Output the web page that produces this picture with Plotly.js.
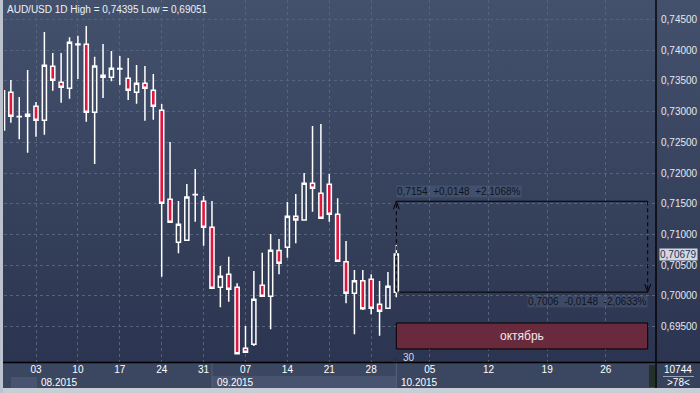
<!DOCTYPE html>
<html><head><meta charset="utf-8">
<script src="https://cdn.plot.ly/plotly-3.0.1.min.js"></script>
<style>
html,body{margin:0;padding:0;background:#2f3954;}
#chart{width:700px;height:393px;background:linear-gradient(to bottom,#44516c 0%,#3b4762 35%,#313b56 70%,#29324e 100%);}
</style></head><body><div id="chart"></div>
<script>
const dates=['2015-07-28','2015-07-29','2015-07-30','2015-07-31',
'2015-08-03','2015-08-04','2015-08-05','2015-08-06','2015-08-07',
'2015-08-10','2015-08-11','2015-08-12','2015-08-13','2015-08-14',
'2015-08-17','2015-08-18','2015-08-19','2015-08-20','2015-08-21',
'2015-08-24','2015-08-25','2015-08-26','2015-08-27','2015-08-28',
'2015-08-31','2015-09-01','2015-09-02','2015-09-03','2015-09-04',
'2015-09-07','2015-09-08','2015-09-09','2015-09-10','2015-09-11',
'2015-09-14','2015-09-15','2015-09-16','2015-09-17','2015-09-18',
'2015-09-21','2015-09-22','2015-09-23','2015-09-24','2015-09-25',
'2015-09-28','2015-09-29','2015-09-30','2015-10-01'];
const openP=[0.72700,0.73314,0.72915,0.72923,
0.73086,0.72858,0.73738,0.73477,0.73380,
0.74090,0.74096,0.72989,0.73591,0.73559,
0.73695,0.73542,0.73314,0.73461,0.73347,
0.73021,0.71572,0.70871,0.70904,0.71645,
0.71539,0.71116,0.70138,0.70350,0.70138,
0.69145,0.69210,0.70171,0.69992,0.70736,
0.70790,0.71295,0.71235,0.71832,0.71669,
0.71816,0.71327,0.70556,0.70041,0.70246,
0.70269,0.69862,0.69796,0.70060];
const highP=[0.73340,0.73515,0.73238,0.73678,
0.73156,0.74296,0.73954,0.73954,0.74210,
0.74236,0.74395,0.73894,0.74101,0.73987,
0.73906,0.73873,0.73759,0.73743,0.73612,
0.73124,0.72505,0.71544,0.71821,0.72065,
0.71625,0.71544,0.70485,0.70637,0.70204,
0.69508,0.70404,0.70702,0.71007,0.70925,
0.71528,0.71658,0.72000,0.72765,0.72798,
0.71984,0.71588,0.70892,0.70420,0.70420,
0.70350,0.70241,0.70388,0.70827];
const lowP=[0.72700,0.72819,0.72549,0.72331,
0.72591,0.72624,0.73340,0.73145,0.73210,
0.73531,0.72836,0.72147,0.73221,0.73493,
0.73433,0.73189,0.73129,0.72852,0.72868,
0.70311,0.71190,0.70692,0.70900,0.71207,
0.70816,0.70120,0.69813,0.69904,0.69051,
0.69075,0.69182,0.69990,0.69454,0.70350,
0.70621,0.70855,0.71230,0.71370,0.71250,
0.71207,0.70550,0.69878,0.69373,0.69769,
0.69699,0.69350,0.69790,0.69976];
const closeP=[0.73340,0.72923,0.72920,0.72956,
0.72858,0.73754,0.73510,0.73396,0.74129,
0.74100,0.72989,0.73743,0.73559,0.73705,
0.73702,0.73347,0.73461,0.73380,0.73086,
0.71507,0.71197,0.71164,0.71609,0.71649,
0.71116,0.70122,0.70318,0.70106,0.69055,
0.69080,0.69943,0.69992,0.70741,0.70529,
0.71295,0.71235,0.71832,0.71751,0.71262,
0.71327,0.70562,0.70041,0.70246,0.69790,
0.69796,0.69748,0.70155,0.70679];
const tickDates=['2015-08-03','2015-08-10','2015-08-17','2015-08-24','2015-08-31','2015-09-07','2015-09-14','2015-09-21','2015-09-28','2015-10-05','2015-10-12','2015-10-19','2015-10-26'];
const tickLabels=['03','10','17','24','31','07','14','21','28','05','12','19','26'];
const monthStarts=['2015-08-03','2015-09-01','2015-10-01'];
const monthLabels=['08.2015','09.2015','10.2015'];
const priceTicks=[0.695,0.700,0.705,0.710,0.715,0.720,0.725,0.730,0.735,0.740,0.745];
const priceLabels=['0,69500','0,70000','0,70500','0,71000','0,71500','0,72000','0,72500','0,73000','0,73500','0,74000','0,74500'];
const lastPrice=0.70679, lastLabel='0,70679';
const rangeHigh=0.7154, rangeLow=0.7006;
const rangeStart='2015-10-01', rangeEnd='2015-10-31';
const rangeTopText='0,7154  +0,0148  +2,1068%';
const rangeBotText='0,7006  -0,0148  -2,0633%';
const monthBoxText='октябрь';
const titleText='AUD/USD 1D High = 0,74395 Low = 0,69051';

// slots: trading days, then calendar days in the future area
const slots=dates.slice();
{let d=new Date(Date.UTC(2015,9,2));const end=Date.UTC(2015,10,3);
 while(d.getTime()<=end){slots.push(d.toISOString().slice(0,10));d.setUTCDate(d.getUTCDate()+1);}}
const idx=s=>slots.indexOf(s);
const xs=dates.map(idx);

const L=4,R=656,B=362;
const XR=[0.181,77.99];
const xp=p=>(p-L)/(R-L), yp=p=>(B-p)/B;
const xd=v=>(v-XR[0])/(XR[1]-XR[0]);
const FONT='Liberation Sans, Arial, sans-serif';

const trace={type:'candlestick',x:xs,open:openP,high:highP,low:lowP,close:closeP,
 increasing:{line:{color:'#ffffff',width:1.5},fillcolor:'rgba(0,0,0,0)'},
 decreasing:{line:{color:'#ffffff',width:1.5},fillcolor:'#e0163e'},
 whiskerwidth:0,hoverinfo:'skip',showlegend:false};

const x0=idx(rangeStart), x1=idx(rangeEnd);
const shapes=[];
// bottom strip
shapes.push({type:'rect',xref:'paper',yref:'paper',x0:xp(0),x1:xp(700),y0:yp(388),y1:yp(362),fillcolor:'#3b4761',line:{width:0},layer:'below'});
const sepX=[idx(monthStarts[1]),idx(monthStarts[2])];
shapes.push({type:'rect',xref:'paper',yref:'paper',x0:xp(11),x1:xp(37),y0:yp(388),y1:yp(377),fillcolor:'#48536f',line:{width:0}});
shapes.push({type:'rect',xref:'paper',yref:'paper',x0:xd(sepX[0]),x1:xd(sepX[1]),y0:yp(388),y1:yp(376),fillcolor:'#48536f',line:{width:0}});
sepX.forEach(s=>shapes.push({type:'line',xref:'paper',yref:'paper',x0:xd(s),x1:xd(s),y0:yp(388),y1:yp(363),line:{color:'#56617b',width:1}}));
shapes.push({type:'rect',xref:'paper',yref:'paper',x0:xp(649),x1:xp(655),y0:yp(387),y1:yp(365),fillcolor:'#25302b',line:{width:0}});
shapes.push({type:'rect',xref:'paper',yref:'paper',x0:xp(656),x1:xp(700),y0:yp(388),y1:yp(362),fillcolor:'#36425c',line:{width:0}});
shapes.push({type:'line',xref:'paper',yref:'paper',x0:xp(663),x1:xp(694),y0:yp(376.5),y1:yp(376.5),line:{color:'#9aa3b5',width:1}});
// frame
shapes.push({type:'rect',xref:'paper',yref:'paper',x0:xp(0),x1:xp(700),y0:yp(393),y1:yp(388),fillcolor:'#c9cdd5',line:{width:0}});
shapes.push({type:'rect',xref:'paper',yref:'paper',x0:xp(0),x1:xp(3),y0:yp(393),y1:yp(0),fillcolor:'#bcc3ce',line:{width:0}});
shapes.push({type:'line',xref:'paper',yref:'paper',x0:xp(3),x1:xp(700),y0:yp(362.5),y1:yp(362.5),line:{color:'#000000',width:1.6}});
shapes.push({type:'line',xref:'paper',yref:'paper',x0:1,x1:1,y0:yp(388),y1:1,line:{color:'#000000',width:1.4}});
// "30" marker triangle
const xt=idx('2015-10-01');
shapes.push({type:'path',xref:'paper',yref:'paper',path:`M ${xp(391)},${yp(362)} L ${xp(395)},${yp(356.5)} L ${xp(399)},${yp(362)} Z`,fillcolor:'#2a3249',line:{width:0}});
// range measurement
shapes.push({type:'line',x0:x0,x1:x1,y0:rangeHigh,y1:rangeHigh,line:{color:'#000000',width:1}});
shapes.push({type:'line',x0:x0,x1:x1,y0:rangeLow,y1:rangeLow,line:{color:'#000000',width:1}});
shapes.push({type:'line',x0:x0,x1:x0,y0:rangeLow,y1:rangeHigh,line:{color:'#000000',width:1,dash:'4px,3px'}});
shapes.push({type:'line',x0:x1,x1:x1,y0:rangeHigh,y1:rangeLow,line:{color:'#000000',width:1,dash:'4px,3px'}});
shapes.push({type:'path',path:`M ${x0-0.35},${rangeHigh-0.0013} L ${x0},${rangeHigh} L ${x0+0.35},${rangeHigh-0.0013}`,line:{color:'#000000',width:1}});
shapes.push({type:'path',path:`M ${x1-0.35},${rangeLow+0.0013} L ${x1},${rangeLow} L ${x1+0.35},${rangeLow+0.0013}`,line:{color:'#000000',width:1}});
// month box
shapes.push({type:'rect',x0:x0,x1:x1,y0:0.69134,y1:0.69557,fillcolor:'#6a2a3d',line:{color:'#000000',width:1}});

const annotations=[];
annotations.push({xref:'paper',yref:'paper',x:xp(5),y:yp(2),xanchor:'left',yanchor:'top',text:titleText,showarrow:false,font:{family:FONT,size:10,color:'#eef0f6'}});
monthStarts.forEach((m,i)=>annotations.push({xref:'paper',yref:'paper',x:xd(idx(m)),xshift:3,y:yp(382.5),xanchor:'left',yanchor:'middle',text:monthLabels[i],showarrow:false,font:{family:FONT,size:10,color:'#ffffff'}}));
annotations.push({xref:'paper',yref:'paper',x:xp(678),y:yp(369.5),xanchor:'center',yanchor:'middle',text:'10744',showarrow:false,font:{family:FONT,size:10,color:'#ffffff'}});
annotations.push({xref:'paper',yref:'paper',x:xp(678),y:yp(382.5),xanchor:'center',yanchor:'middle',text:'>78<',showarrow:false,font:{family:FONT,size:10,color:'#ffffff'}});
annotations.push({xref:'x',yref:'paper',x:xt,xshift:5,y:yp(357.5),xanchor:'left',yanchor:'middle',text:'30',showarrow:false,font:{family:FONT,size:10,color:'#cfdcf2'}});
annotations.push({x:x0,y:rangeHigh,xanchor:'left',yanchor:'bottom',yshift:3,text:rangeTopText,showarrow:false,bgcolor:'rgba(90,105,135,0.35)',borderpad:0,font:{family:FONT,size:10,color:'#11141e'}});
annotations.push({x:x1,y:rangeLow,xanchor:'right',yanchor:'top',yshift:-3,text:rangeBotText,showarrow:false,bgcolor:'rgba(90,105,135,0.35)',borderpad:0,font:{family:FONT,size:10,color:'#11141e'}});
annotations.push({x:(x0+x1)/2,y:(0.69134+0.69557)/2,xanchor:'center',yanchor:'middle',text:monthBoxText,showarrow:false,font:{family:FONT,size:12,color:'#f2e6ea'}});
annotations.push({xref:'paper',x:1,xshift:3,y:lastPrice,xanchor:'left',yanchor:'middle',text:lastLabel,showarrow:false,bgcolor:'#d3d7df',borderpad:0,font:{family:FONT,size:10,color:'#22305a'}});

const layout={width:700,height:393,margin:{l:L,r:700-R,t:0,b:393-B,pad:0},
 paper_bgcolor:'rgba(0,0,0,0)',plot_bgcolor:'rgba(0,0,0,0)',showlegend:false,
 xaxis:{type:'linear',range:XR,rangeslider:{visible:false},tickvals:tickDates.map(idx),ticktext:tickLabels,
  showgrid:true,gridcolor:'#56637e',griddash:'3px,3px',gridwidth:1,zeroline:false,showline:false,ticks:'',
  tickfont:{family:FONT,size:10,color:'#ffffff'},fixedrange:true},
 yaxis:{side:'right',range:[0.68922,0.74818],tickvals:priceTicks,ticktext:priceLabels,showgrid:true,gridcolor:'#56637e',griddash:'3px,3px',
  zeroline:false,showline:false,ticks:'',ticklabelstandoff:4,tickfont:{family:FONT,size:10,color:'#e4e8f0'},fixedrange:true},
 shapes:shapes,annotations:annotations};
Plotly.newPlot('chart',[trace],layout,{displayModeBar:false,staticPlot:true});
</script></body></html>
